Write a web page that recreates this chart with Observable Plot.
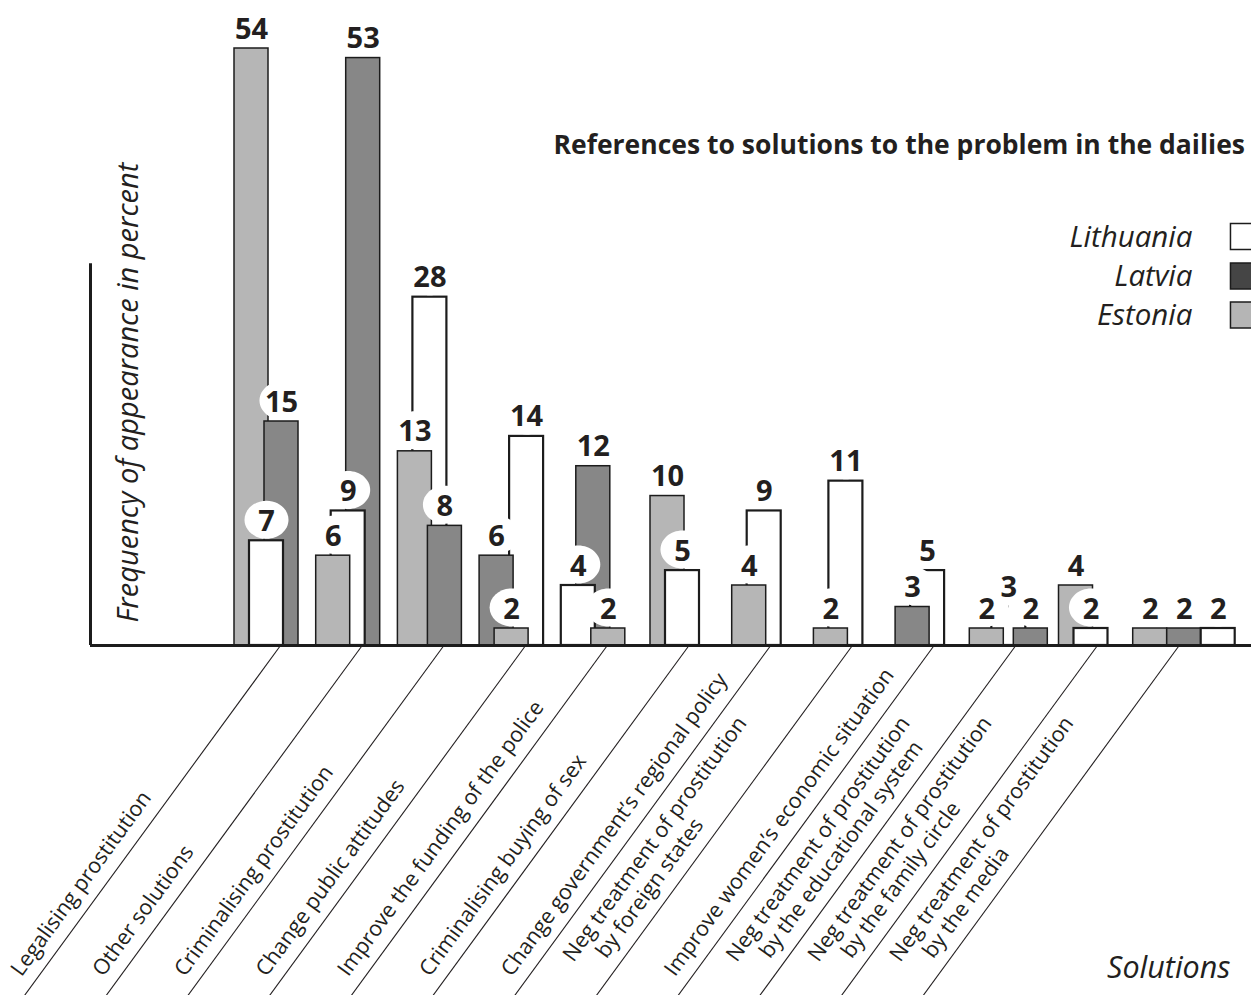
<!DOCTYPE html>
<html>
<head>
<meta charset="utf-8">
<script src="https://cdn.jsdelivr.net/npm/d3@7"></script>
<script src="https://cdn.jsdelivr.net/npm/@observablehq/plot@0.6"></script>
<style>
  html, body { margin: 0; padding: 0; overflow: hidden; background: #fff; }
</style>
</head>
<body>
<div id="chart"></div>
<script>
// ---------------- data ----------------
const categories = [
  "Legalising prostitution",
  "Other solutions",
  "Criminalising prostitution",
  "Change public attitudes",
  "Improve the funding of the police",
  "Criminalising buying of sex",
  "Change government\u2019s regional policy",
  "Neg treatment of prostitution\nby foreign states",
  "Improve women\u2019s economic situation",
  "Neg treatment of prostitution\nby the educational system",
  "Neg treatment of prostitution\nby the family circle",
  "Neg treatment of prostitution\nby the media"
];
const estonia   = [54,  6, 13,  2,  2, 10,    4,    2, null, 2,    4, 2];
const latvia    = [15, 53,  8,  6, 12, null, null, null, 3,  2, null, 2];
const lithuania = [ 7,  9, 28, 14,  4,  5,    9,   11,  5,  3,    2, 2];
// left-to-right order of the bars inside each group, as drawn in the picture
const barOrder = [
  ["Estonia", "Lithuania", "Latvia"],
  ["Estonia", "Lithuania", "Latvia"],
  ["Estonia", "Lithuania", "Latvia"],
  ["Latvia", "Estonia", "Lithuania"],
  ["Lithuania", "Latvia", "Estonia"],
  ["Estonia", "Lithuania"],
  ["Estonia", "Lithuania"],
  ["Estonia", "Lithuania"],
  ["Latvia", "Lithuania"],
  ["Estonia", "Lithuania", "Latvia"],
  ["Estonia", "Lithuania"],
  ["Estonia", "Latvia", "Lithuania"]
];
const countries = ["Lithuania", "Latvia", "Estonia"];
const title = "References to solutions to the problem in the dailies";
const yLabel = "Frequency of appearance in percent";
const xLabel = "Solutions";

// ---------------- layout ----------------
const W = 1251, H = 995;
const PX = 81.7;            // pixels per category step
const X0 = 198.3;           // pixel of category index 0
const BAR_W = 34 / PX;
const GAP_OVERLAP = 15 / PX;
const GAP_NEAR = 22 / PX;
const GROUP_CENTER = -14 / PX;
const SPAN_CAP = 64 / PX;
const SLOPE = 256 / PX;     // horizontal run of the slanted separators (in category units)
const AXIS_X = (90 - X0) / PX;
const RIGHT_X = (W - X0) / PX;
const BELOW = -10;          // value standing for the bottom edge of the label band
// the original's value axis is not uniform: piecewise mapping of values to drawn heights
const heightOf = d3.scaleLinear().domain([BELOW, 0, 2, 4, 15, 54]).range([-350, 0, 17, 60, 224, 597]);

const values = {Estonia: estonia, Latvia: latvia, Lithuania: lithuania};
const bars = [];
categories.forEach((cat, i) => {
  const order = barOrder[i];
  const offs = [0];
  for (let j = 1; j < order.length; j++) {
    const d = Math.abs(values[order[j]][i] - values[order[j - 1]][i]);
    offs.push(offs[j - 1] + (d === 0 ? BAR_W : d === 1 ? GAP_NEAR : GAP_OVERLAP));
  }
  const span = offs[offs.length - 1] + BAR_W;
  const left = (i + 1) + GROUP_CENTER - Math.min(span, SPAN_CAP) / 2;
  order.forEach((country, j) => {
    bars.push({cat, country, value: values[country][i], x1: left + offs[j], x2: left + offs[j] + BAR_W});
  });
});
// taller bars sit behind shorter ones
bars.sort((a, b) => b.value - a.value);

// white oval behind each value label
const bubble = {
  draw(ctx) {
    const rx = 22, ry = 19, k = 0.5523;
    ctx.moveTo(rx, 0);
    ctx.bezierCurveTo(rx, k * ry, k * rx, ry, 0, ry);
    ctx.bezierCurveTo(-k * rx, ry, -rx, k * ry, -rx, 0);
    ctx.bezierCurveTo(-rx, -k * ry, -k * rx, -ry, 0, -ry);
    ctx.bezierCurveTo(k * rx, -ry, rx, -k * ry, rx, 0);
    ctx.closePath();
  }
};

const ink = "#231f20";
const legendFill = {Lithuania: "#ffffff", Latvia: "#454545", Estonia: "#b5b5b5"};
const legendY = {Lithuania: [236, 246], Latvia: [275.5, 285], Estonia: [314.5, 324]};
const catIdx = categories.map((d, i) => i + 1);

const chart = Plot.plot({
  width: W,
  height: H,
  margin: 0,
  style: {fontFamily: "'Open Sans', sans-serif", background: "#fff", color: ink, overflow: "hidden"},
  x: {domain: [0, 12], range: [X0, X0 + 12 * PX], axis: null},
  y: {transform: heightOf, range: [995, 48], axis: null},
  color: {domain: countries, range: ["#ffffff", "#878787", "#b6b6b6"]},
  marks: [
    // slanted separators under the axis
    Plot.link(catIdx, {x1: d => d, y1: 0, x2: d => d - SLOPE, y2: BELOW, stroke: ink, strokeWidth: 1.1}),
    // bars
    Plot.rect(bars, {
      x1: "x1", x2: "x2", y1: 0, y2: "value",
      fill: "country",
      stroke: "#1c1c1c",
      strokeWidth: d => d.country === "Lithuania" ? 2.2 : 1.5
    }),
    // axes
    Plot.ruleY([0], {x1: AXIS_X, x2: RIGHT_X, stroke: "#1c1c1c", strokeWidth: 3}),
    Plot.ruleX([AXIS_X], {y1: 0, y2: 31.5, stroke: "#1c1c1c", strokeWidth: 3}),
    // value labels: white ovals, then numbers
    Plot.dot(bars, {
      x: d => (d.x1 + d.x2) / 2, y: "value", dy: -21,
      symbol: bubble, r: 20, fill: "#fff", stroke: "none"
    }),
    Plot.text(bars, {
      x: d => (d.x1 + d.x2) / 2, y: "value", dy: -10, text: d => String(d.value),
      lineAnchor: "bottom", fontSize: 29, fontWeight: "bold", fill: ink
    }),
    // category labels along the separators
    Plot.text(categories, {
      x: (d, i) => i + 1, y: 0, dx: -259, dy: 332,
      text: d => d.replace("\n", "\n\u00a0\u00a0\u00a0\u00a0"),
      rotate: -54, textAnchor: "start", lineAnchor: "bottom",
      fontSize: 21.5, lineHeight: 1.15, fill: ink
    }),
    // title
    Plot.text([title], {
      frameAnchor: "top-left", dx: 553, dy: 153, text: d => d,
      textAnchor: "start", lineAnchor: "bottom", fontSize: 26.5, fontWeight: "bold", fill: ink
    }),
    // y label
    Plot.text([yLabel], {
      frameAnchor: "top-left", dx: 137, dy: 622, text: d => d, rotate: -90,
      textAnchor: "start", lineAnchor: "bottom", fontSize: 29, fontStyle: "italic", fill: ink
    }),
    // x label
    Plot.text([xLabel], {
      frameAnchor: "top-left", dx: 1230, dy: 977, text: d => d,
      textAnchor: "end", lineAnchor: "bottom", fontSize: 30.5, fontStyle: "italic", fill: ink
    }),
    // legend
    ...countries.map(c => Plot.text([c], {
      frameAnchor: "top-left", dx: 1192, dy: legendY[c][1], text: d => d,
      textAnchor: "end", lineAnchor: "bottom", fontSize: 29.5, fontStyle: "italic", fill: ink
    })),
    ...countries.map(c => Plot.dot([c], {
      frameAnchor: "top-left", dx: 1243, dy: legendY[c][0],
      symbol: "square", r: 14.7, fill: legendFill[c], stroke: "#1c1c1c", strokeWidth: 1.5
    }))
  ]
});
document.getElementById("chart").appendChild(chart);
</script>
</body>
</html>
